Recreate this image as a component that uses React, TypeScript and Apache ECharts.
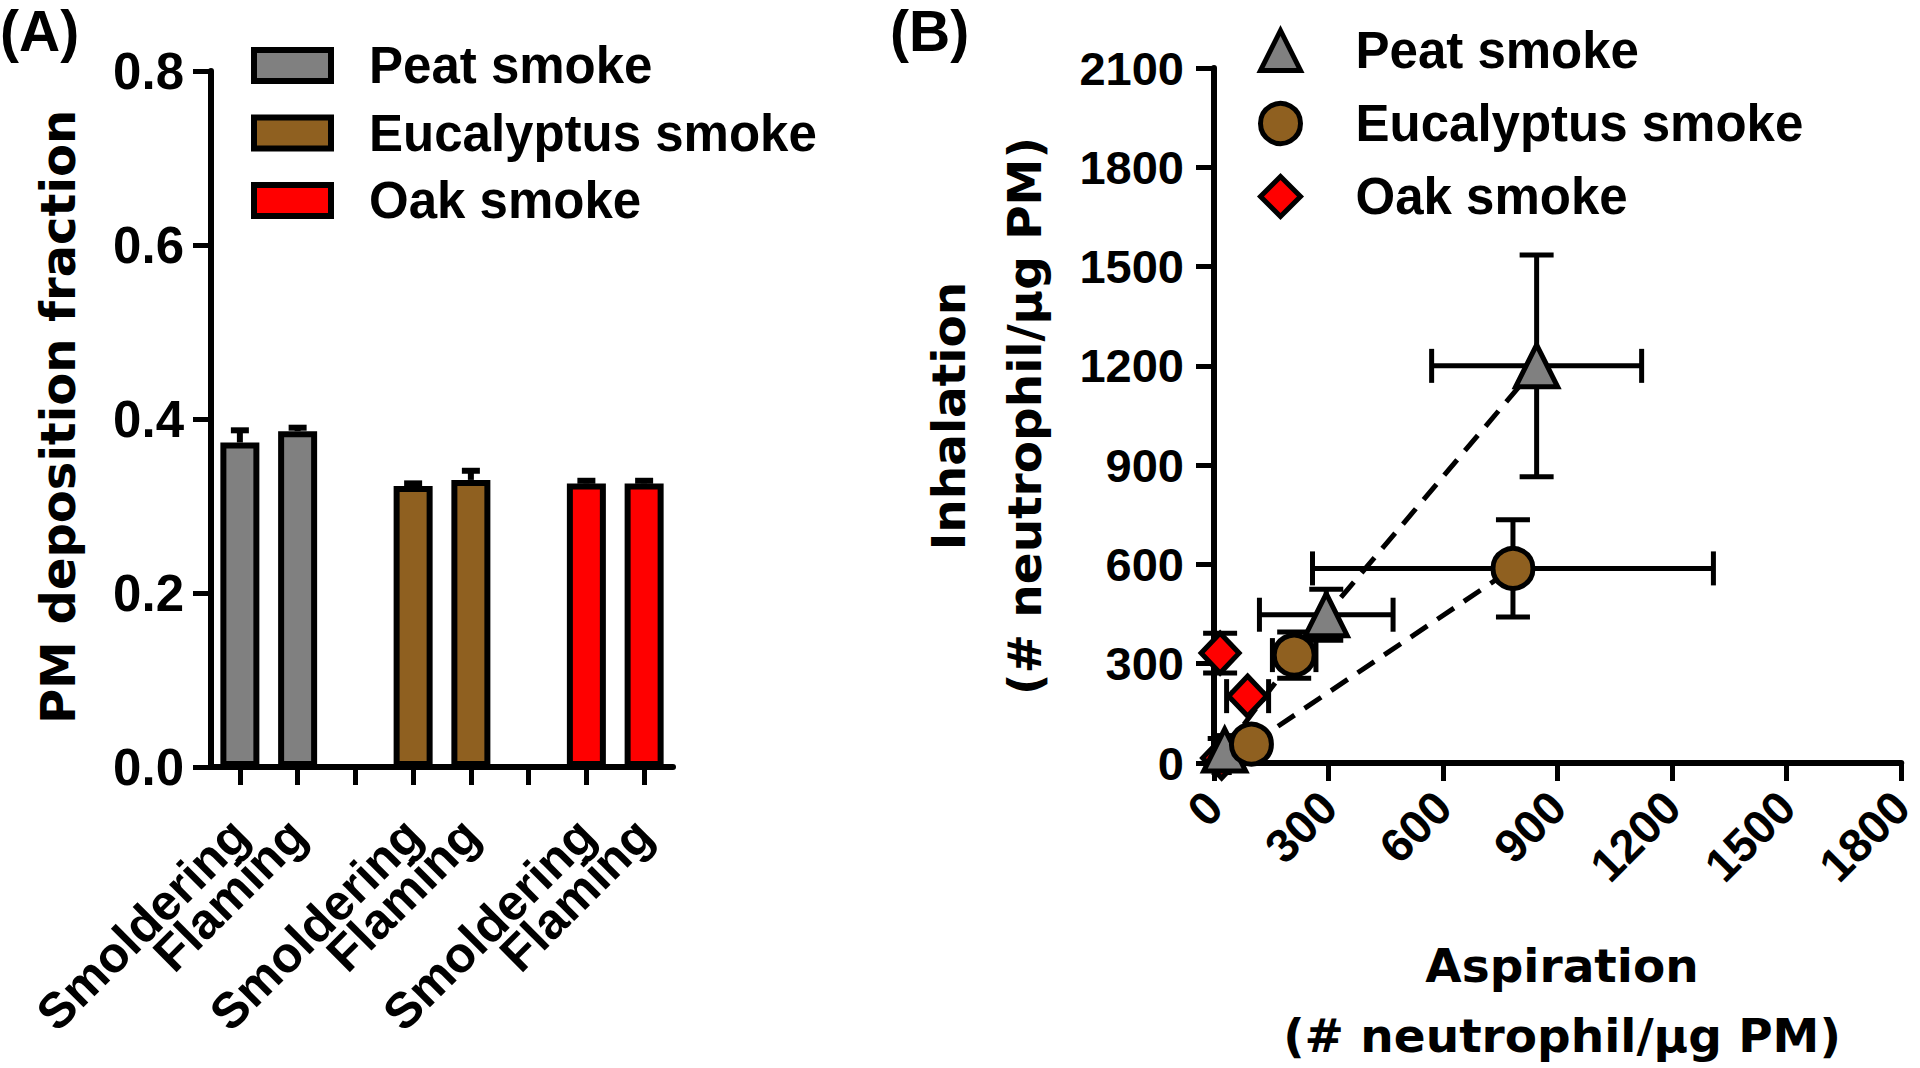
import React, { useEffect, useRef } from "react";
import * as echarts from "echarts";

// ---------- Panel A data ----------
const categoriesA = [
  "Peat|Smoldering",
  "Peat|Flaming",
  "gap1|",
  "Eucalyptus|Smoldering",
  "Eucalyptus|Flaming",
  "gap2|",
  "Oak|Smoldering",
  "Oak|Flaming",
];
const peatMeans = [0.373, 0.386];
const peatErrs = [0.014, 0.004];
const eucMeans = [0.323, 0.33];
const eucErrs = [0.003, 0.0105];
const oakMeans = [0.326, 0.326];
const oakErrs = [0.003, 0.003];
const yTicksA = [0, 0.2, 0.4, 0.6, 0.8];

// ---------- Panel B data ----------
const peatX = [28, 294, 845];
const peatY = [39, 448, 1200];
const peatXErr = [15, 175, 275];
const peatYErr = [35, 77, 335];

const eucX = [98, 210, 783];
const eucY = [57, 326, 588];
const eucXErr = [25, 57, 525];
const eucYErr = [25, 70, 147];

const oakX = [20, 88, 16];
const oakY = [15, 202, 332];
const oakXErr = [20, 55, 8];
const oakYErr = [8, 10, 60];

const xTicksB = [0, 300, 600, 900, 1200, 1500, 1800];
const yTicksB = [0, 300, 600, 900, 1200, 1500, 1800, 2100];

const seriesNames = ["Peat smoke", "Eucalyptus smoke", "Oak smoke"];
const colors = ["#808080", "#8f6020", "#ff0000"];

const ARIAL = "'Liberation Sans', Arial, Helvetica, sans-serif";
const DEJAVU = "'DejaVu Sans', Verdana, sans-serif";

export default function App() {
  const ref = useRef<HTMLDivElement>(null);

  useEffect(() => {
    if (!ref.current) return;
    const chart = echarts.init(ref.current, undefined, { renderer: "svg" });

    const place = (means: number[], offset: number) =>
      categoriesA.map((_, i) =>
        i === offset ? means[0] : i === offset + 1 ? means[1] : "-"
      );

    const barErrData: number[][] = [];
    [
      [peatMeans, peatErrs, 0],
      [eucMeans, eucErrs, 3],
      [oakMeans, oakErrs, 6],
    ].forEach(([m, e, off]: any) => {
      barErrData.push([off, m[0], e[0]]);
      barErrData.push([off + 1, m[1], e[1]]);
    });

    const ptsData = (xs: number[], ys: number[], xe: number[], ye: number[]) =>
      xs.map((x, i) => [x, ys[i], xe[i], ye[i]]);

    const peatPts = ptsData(peatX, peatY, peatXErr, peatYErr);
    const eucPts = ptsData(eucX, eucY, eucXErr, eucYErr);
    const oakPts = ptsData(oakX, oakY, oakXErr, oakYErr);

    const axisLineStyle = { color: "#000", width: 6 };
    const tickStyle = { show: true, length: 18, lineStyle: { color: "#000", width: 5 } };

    const barSeries = seriesNames.map((name, k) => ({
      name,
      type: "bar",
      xAxisIndex: 0,
      yAxisIndex: 0,
      barWidth: 39,
      barGap: "-100%",
      data: place([peatMeans, eucMeans, oakMeans][k], [0, 3, 6][k]),
      itemStyle: { color: colors[k], borderColor: "#000", borderWidth: 6 },
      z: 2,
    }));

    const symbols = ["triangle", "circle", "diamond"];
    const symSizes: any = [42, 40, [38, 40]];
    const symZ = [6, 7, 5];
    const scatterSeries = [peatPts, eucPts, oakPts].map((pts, k) => ({
      name: seriesNames[k] + " (B)",
      type: "scatter",
      xAxisIndex: 1,
      yAxisIndex: 1,
      symbol: symbols[k],
      symbolSize: symSizes[k],
      data: pts.map((p) => [p[0], p[1]]),
      itemStyle: { color: colors[k], borderColor: "#000", borderWidth: 5, opacity: 1 },
      z: symZ[k],
    }));

    const sortByX = (pts: number[][]) =>
      pts.map((p) => [p[0], p[1]]).sort((a, b) => a[0] - b[0]);
    const peatLine = sortByX(peatPts);
    const eucLineAll = sortByX(eucPts);
    const eucLine = [eucLineAll[0], eucLineAll[eucLineAll.length - 1]];

    const lineSeries = [peatLine, eucLine].map((d) => ({
      type: "line",
      xAxisIndex: 1,
      yAxisIndex: 1,
      data: d,
      symbol: "none",
      silent: true,
      lineStyle: { color: "#000", width: 5, type: [20, 12] },
      z: 1,
    }));

    const errB = {
      type: "custom",
      xAxisIndex: 1,
      yAxisIndex: 1,
      silent: true,
      z: 3,
      data: [...peatPts, ...eucPts, ...oakPts],
      encode: { x: 0, y: 1 },
      renderItem: (params: any, api: any) => {
        const x = api.value(0);
        const y = api.value(1);
        const xe = api.value(2);
        const ye = api.value(3);
        const c = api.coord([x, y]);
        const l = api.coord([x - xe, y]);
        const r = api.coord([x + xe, y]);
        const t = api.coord([x, y + ye]);
        const b = api.coord([x, y - ye]);
        const cap = 17;
        const st = { stroke: "#000", lineWidth: 5 };
        const mk = (x1: number, y1: number, x2: number, y2: number) => ({
          type: "line",
          shape: { x1, y1, x2, y2 },
          style: st,
        });
        return {
          type: "group",
          children: [
            mk(l[0], c[1], r[0], c[1]),
            mk(l[0], c[1] - cap, l[0], c[1] + cap),
            mk(r[0], c[1] - cap, r[0], c[1] + cap),
            mk(c[0], t[1], c[0], b[1]),
            mk(c[0] - cap, t[1], c[0] + cap, t[1]),
            mk(c[0] - cap, b[1], c[0] + cap, b[1]),
          ],
        };
      },
    };

    const errA = {
      type: "custom",
      xAxisIndex: 0,
      yAxisIndex: 0,
      silent: true,
      z: 4,
      data: barErrData,
      encode: { x: 0, y: 1 },
      renderItem: (params: any, api: any) => {
        const i = api.value(0);
        const m = api.value(1);
        const e = api.value(2);
        const base = api.coord([i, m]);
        const top = api.coord([i, m + e]);
        const st = { stroke: "#000", lineWidth: 6 };
        return {
          type: "group",
          children: [
            { type: "line", shape: { x1: base[0], y1: base[1], x2: top[0], y2: top[1] }, style: st },
            { type: "line", shape: { x1: top[0] - 9, y1: top[1], x2: top[0] + 9, y2: top[1] }, style: st },
          ],
        };
      },
    };

    const labelFont = { fontFamily: ARIAL, fontWeight: "bold" as const, color: "#000" };

    const option: any = {
      animation: false,
      backgroundColor: "#fff",
      grid: [
        { left: 211, top: 71, width: 462, height: 696 },
        { left: 1214, top: 68, width: 695, height: 695 },
      ],
      xAxis: [
        {
          type: "category",
          gridIndex: 0,
          data: categoriesA,
          axisLine: { lineStyle: axisLineStyle },
          axisTick: { ...tickStyle, alignWithLabel: true, interval: 0 },
          axisLabel: {
            ...labelFont,
            fontSize: 50,
            rotate: 45,
            interval: 0,
            margin: 60,
            formatter: (v: string) => v.split("|")[1] || "",
          },
          splitLine: { show: false },
        },
        {
          type: "value",
          gridIndex: 1,
          min: 0,
          max: 1800,
          interval: 300,
          axisLine: { lineStyle: axisLineStyle },
          axisTick: tickStyle,
          axisLabel: {
            ...labelFont,
            fontSize: 47,
            rotate: 45,
            margin: 36,
            formatter: (v: number) => String(v),
          },
          splitLine: { show: false },
        },
      ],
      yAxis: [
        {
          type: "value",
          gridIndex: 0,
          min: 0,
          max: 0.8,
          interval: 0.2,
          axisLine: { show: true, lineStyle: axisLineStyle },
          axisTick: tickStyle,
          axisLabel: {
            ...labelFont,
            fontSize: 51,
            margin: 27,
            formatter: (v: number) => v.toFixed(1),
          },
          splitLine: { show: false },
        },
        {
          type: "value",
          gridIndex: 1,
          min: 0,
          max: 2100,
          interval: 300,
          axisLine: { show: true, lineStyle: axisLineStyle },
          axisTick: tickStyle,
          axisLabel: {
            ...labelFont,
            fontSize: 47,
            margin: 30,
            formatter: (v: number) => String(v),
          },
          splitLine: { show: false },
        },
      ],
      legend: [
        {
          data: seriesNames,
          orient: "vertical",
          left: 251,
          top: 40,
          padding: 0,
          icon: "rect",
          itemWidth: 77,
          itemHeight: 31,
          itemGap: 16.5,
          selectedMode: false,
          itemStyle: { borderColor: "#000", borderWidth: 6 },
          textStyle: { ...labelFont, fontSize: 51, lineHeight: 50, padding: [0, 0, 0, 33] },
        },
        {
          data: seriesNames.map((n) => n + " (B)"),
          orient: "vertical",
          left: 1258,
          top: 25,
          padding: 0,
          itemWidth: 40,
          itemHeight: 40,
          itemGap: 22,
          selectedMode: false,
          formatter: (n: string) => n.replace(" (B)", ""),
          itemStyle: { borderColor: "#000", borderWidth: 5 },
          textStyle: { ...labelFont, fontSize: 51, lineHeight: 50, padding: [0, 0, 0, 50] },
        },
      ],
      graphic: [
        {
          type: "text",
          left: 0,
          top: 2,
          style: { text: "(A)", font: `bold 57px ${ARIAL}`, fill: "#000" },
        },
        {
          type: "text",
          left: 890,
          top: 2,
          style: { text: "(B)", font: `bold 57px ${ARIAL}`, fill: "#000" },
        },
        {
          type: "text",
          x: 58,
          y: 417,
          rotation: Math.PI / 2,
          style: {
            text: "PM deposition fraction",
            font: `bold 48px ${DEJAVU}`,
            fill: "#000",
            align: "center",
            verticalAlign: "middle",
          },
        },
        {
          type: "text",
          x: 986,
          y: 416,
          rotation: Math.PI / 2,
          style: {
            text: "Inhalation\n(# neutrophil/\u03bcg PM)",
            font: `bold 47px ${DEJAVU}`,
            lineHeight: 76,
            fill: "#000",
            align: "center",
            verticalAlign: "middle",
          },
        },
        {
          type: "text",
          x: 1562,
          y: 1000,
          style: {
            text: "Aspiration\n(# neutrophil/\u03bcg PM)",
            font: `bold 47px ${DEJAVU}`,
            lineHeight: 70,
            fill: "#000",
            align: "center",
            verticalAlign: "middle",
          },
        },
      ],
      series: [...barSeries, errA, ...lineSeries, errB, ...scatterSeries],
    };

    chart.setOption(option);
    return () => chart.dispose();
  }, []);

  return (
    <div
      ref={ref}
      style={{ position: "absolute", left: 0, top: 0, width: 1920, height: 1068, background: "#fff" }}
    />
  );
}
